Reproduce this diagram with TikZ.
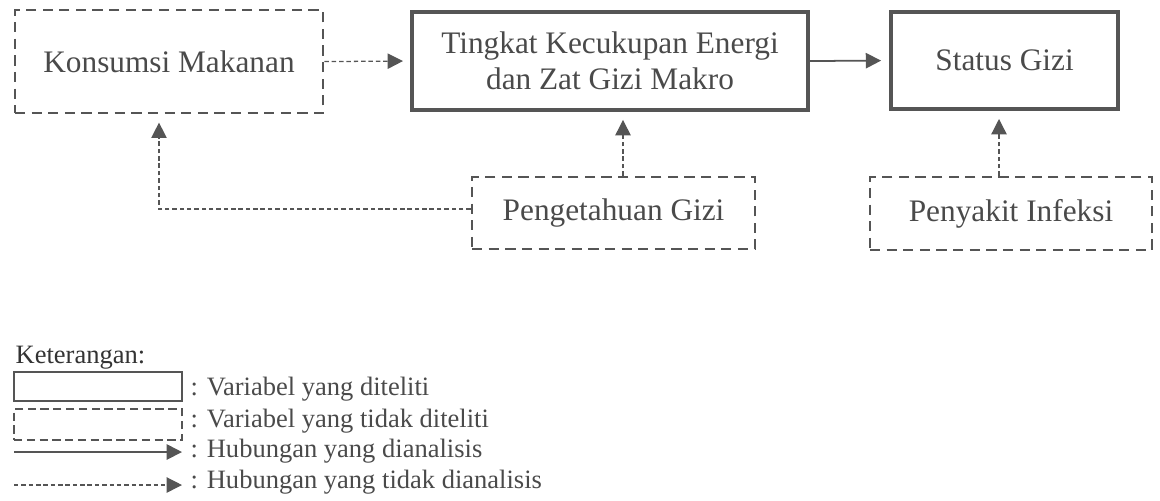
\documentclass[tikz,border=0pt]{standalone}
\usepackage{fontspec}
\setmainfont{Liberation Serif}
\usetikzlibrary{arrows.meta}
\definecolor{kfink}{HTML}{555555}
\definecolor{kftext}{HTML}{4A4A4A}
\tikzset{
  var diteliti/.style={draw=kfink, line width=1.1pt, inner sep=0pt,
    align=center, text=kftext, font=\fontsize{9.8}{11.4}\selectfont},
  var tidak/.style={draw=kfink, line width=0.85pt,
    dash pattern=on 3.2pt off 2pt, inner sep=0pt,
    align=center, text=kftext, font=\fontsize{9.8}{11.4}\selectfont},
  rel dianalisis/.style={draw=kfink, line width=0.55pt,
    -{Triangle[length=4.8pt, width=4.8pt]}},
  rel tidak/.style={draw=kfink, line width=0.4pt,
    dash pattern=on 1.4pt off 0.9pt, -{Triangle[length=4.8pt, width=4.8pt]}},
  legend box/.style={draw=kfink, line width=0.7pt, inner sep=0pt,
    minimum width=1.848cm},
  legend label/.style={font=\fontsize{8.3}{10}\selectfont, text=kftext,
    anchor=west, inner sep=0pt},
}

\begin{document}
\begin{tikzpicture}[x=1cm, y=1cm]
  \useasboundingbox (0,0) rectangle (12.76,-5.5);

  \node[var tidak, minimum width=3.388cm, minimum height=1.133cm]
    (konsumsi) at (1.859,-0.677) {Konsumsi Makanan};
  \node[var diteliti, minimum width=4.356cm, minimum height=1.078cm]
    (tingkat) at (6.71,-0.671) {Tingkat Kecukupan Energi\\dan Zat Gizi Makro};
  \node[var diteliti, minimum width=2.497cm, minimum height=1.067cm]
    (status) at (11.05,-0.666) {Status Gizi};
  \node[var tidak, minimum width=3.113cm, minimum height=0.792cm]
    (pengetahuan) at (6.749,-2.343) {Pengetahuan Gizi};
  \node[var tidak, minimum width=3.102cm, minimum height=0.803cm]
    (penyakit) at (11.121,-2.349) {Penyakit Infeksi};

  \coordinate (kbend) at (1.749,-2.299);
  \coordinate (tcol) at (6.853,0);
  \coordinate (scol) at (10.989,0);

  \draw[rel tidak, shorten >=0.08cm] (konsumsi.east) -- (tingkat.west);
  \draw[rel dianalisis, shorten >=0.09cm] (tingkat.east) -- (status.west);
  \draw[rel tidak, shorten >=0.09cm]
    (pengetahuan.north -| tcol) -- (tingkat.south -| tcol);
  \draw[rel tidak, shorten >=0.09cm]
    (penyakit.north -| scol) -- (status.south -| scol);
  \draw[rel tidak, shorten >=0.09cm]
    (pengetahuan.west |- kbend) -- (kbend) -- (kbend |- konsumsi.south);

  \node[legend label, text=black!80] (keterangan) at (0.165,-3.938) {Keterangan:};
  \node[legend box, minimum height=0.319cm] (lgsolid) at (1.078,-4.252) {};
  \node[legend box, dash pattern=on 2.6pt off 1.4pt, minimum height=0.341cm]
    (lgdashed) at (1.078,-4.670) {};
  \coordinate (lga1) at (0.154,-4.972);
  \coordinate (lga2) at (2.002,-4.972);
  \coordinate (lgb1) at (0.154,-5.335);
  \coordinate (lgb2) at (2.002,-5.335);
  \draw[rel dianalisis] (lga1) -- (lga2);
  \draw[rel tidak] (lgb1) -- (lgb2);
  \node[legend label] (lt1) at (2.09,-4.279) {: Variabel yang diteliti};
  \node[legend label] (lt2) at (2.09,-4.631) {: Variabel yang tidak diteliti};
  \node[legend label] (lt3) at (2.09,-4.961) {: Hubungan yang dianalisis};
  \node[legend label] (lt4) at (2.09,-5.302) {: Hubungan yang tidak dianalisis};
\end{tikzpicture}
\end{document}
